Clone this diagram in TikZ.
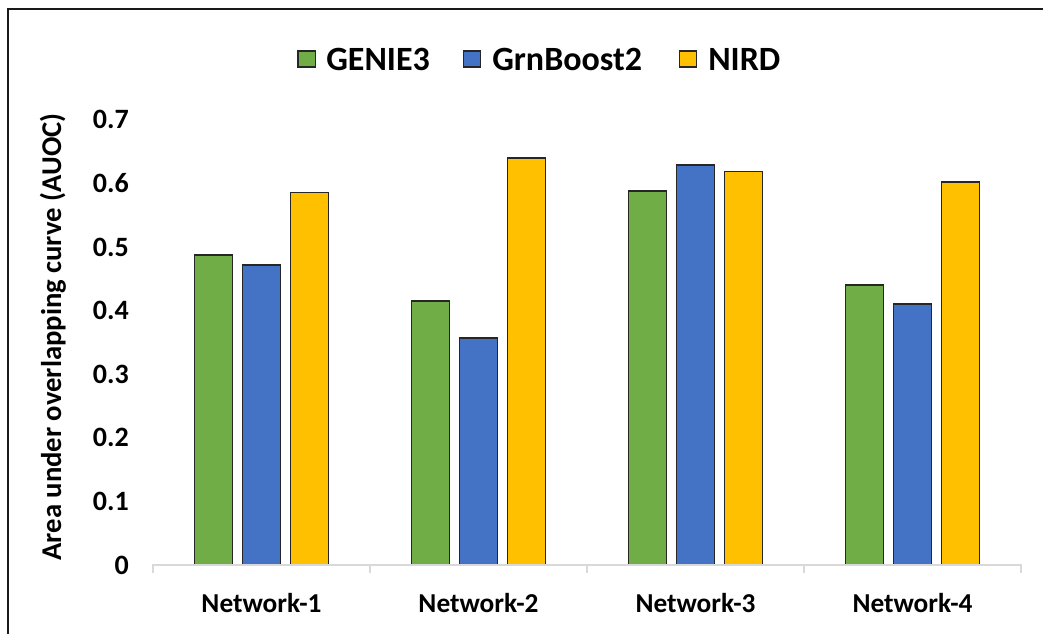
\documentclass[tikz,border=0pt]{standalone}
\usepackage{fontspec}
\setmainfont{Carlito}
\definecolor{cgreen}{HTML}{70AD47}
\definecolor{cblue}{HTML}{4472C4}
\definecolor{cyellow}{HTML}{FFC000}
\definecolor{axisgray}{HTML}{D9D9D9}
\begin{document}
\begin{tikzpicture}[x=0.75pt,y=-0.75pt,
  barbox/.style={draw=black!85, line width=1.2pt},
  legbox/.style={draw=black!85, line width=1pt, minimum width=13pt, minimum height=12pt, inner sep=0pt},
  legtext/.style={font=\fontsize{25.5}{30}\selectfont\bfseries, anchor=west, inner sep=0pt},
  ticklabel/.style={font=\fontsize{21}{25}\selectfont\bfseries, anchor=east, inner sep=0pt},
  catlabel/.style={font=\fontsize{20.5}{25}\selectfont\bfseries, inner sep=0pt},
  axistitle/.style={font=\fontsize{21.5}{26}\selectfont\bfseries, rotate=90, inner sep=0pt},
  axisline/.style={draw=axisgray, line width=1.6pt}]
\useasboundingbox (0,0) rectangle (1043,634);
% frame
\draw[line width=2pt, black!90] (8,634) -- (8,9) -- (1043,9);
% legend
\node[legbox, fill=cgreen] (lg1) at (306.5,59) {};
\node[legtext] (lt1) at (326,59) {GENIE3};
\node[legbox, fill=cblue] (lg2) at (472,59) {};
\node[legtext] (lt2) at (492,59) {GrnBoost2};
\node[legbox, fill=cyellow] (lg3) at (688,59) {};
\node[legtext] (lt3) at (708,59) {NIRD};
% axis title
\node[axistitle] (ytitle) at (53,337) {Area under overlapping curve (AUOC)};
% tick labels
\foreach \v/\t in {0/0,1/0.1,2/0.2,3/0.3,4/0.4,5/0.5,6/0.6,7/0.7}
  \node[ticklabel] (tick\v) at (129,565-\v*63.6) {\t};
% bars
\foreach \c/\g/\b/\y/\n in {261.5/0.487/0.472/0.586/1, 478.5/0.415/0.357/0.640/2, 695.5/0.588/0.629/0.619/3, 912.5/0.440/0.410/0.602/4}{
  \pgfmathsetmacro{\tg}{565-\g*636}
  \pgfmathsetmacro{\tb}{565-\b*636}
  \pgfmathsetmacro{\ty}{565-\y*636}
  \draw[barbox, fill=cgreen] (\c-67,565) rectangle (\c-29,\tg);
  \draw[barbox, fill=cblue] (\c-19,565) rectangle (\c+19,\tb);
  \draw[barbox, fill=cyellow] (\c+29,565) rectangle (\c+67,\ty);
  \node[catlabel] (cat\n) at (\c,603) {Network-\n};
}
% axis
\draw[axisline] (153,573) -- (153,565) -- (1021,565) -- (1021,573);
\foreach \x in {370,587,804}
  \draw[axisline] (\x,565) -- (\x,573);
\end{tikzpicture}
\end{document}
